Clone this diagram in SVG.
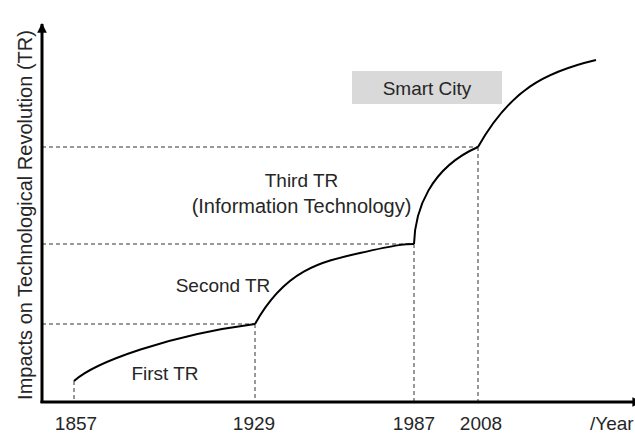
<svg xmlns="http://www.w3.org/2000/svg" width="635" height="433" viewBox="0 0 635 433">
<style>
.t{font-family:"Liberation Sans",Arial,sans-serif;font-size:19px;fill:#262626}
.dash{fill:none;stroke:#333;stroke-width:1;stroke-dasharray:4 3}
.curve{fill:none;stroke:#000;stroke-width:2;stroke-linejoin:round}
.axis{fill:none;stroke:#000;stroke-width:3}
</style>
<defs>
<marker id="ah" viewBox="0 0 10 10" refX="9" refY="5" markerWidth="3.2" markerHeight="3.2" orient="auto" markerUnits="strokeWidth">
<path d="M0,0 L10,5 L0,10 z" fill="#000"/>
</marker>
</defs>
<rect width="635" height="433" fill="#fff"/>
<g id="connectors">
<path class="dash" d="M42,147 H478 M42,244 H414 M42,324 H255"/>
<path class="dash" d="M74,381 V402 M255,324 V402 M414,244 V402 M478,147 V402"/>
<path class="curve" d="M74,381 C95,362 170,335 255,324"/>
<path class="curve" d="M255,324 C285,270 320,262 360,253 S405,244 414,244"/>
<path class="curve" d="M414,244 C415,210 430,168 478,147"/>
<path class="curve" d="M478,147 C510,90 545,72 596,60"/>
<path class="axis" d="M42,403 V24" marker-end="url(#ah)"/>
<path class="axis" d="M40.5,402 H641" marker-end="url(#ah)"/>
</g>
<g id="smart-city">
<rect x="352" y="71" width="150" height="33" fill="#d9d9d9"/>
<text class="t" x="427" y="95" text-anchor="middle">Smart City</text>
</g>
<g id="third-tr">
<text class="t" x="301.5" y="187" text-anchor="middle">Third TR</text>
<text class="t" x="301.5" y="213" text-anchor="middle" style="font-size:20px">(Information Technology)</text>
</g>
<g id="second-tr">
<text class="t" x="223" y="292" text-anchor="middle">Second TR</text>
</g>
<g id="first-tr">
<text class="t" x="165" y="380" text-anchor="middle">First TR</text>
</g>
<g id="x-labels">
<text class="t" x="76" y="430" text-anchor="middle">1857</text>
<text class="t" x="254" y="430" text-anchor="middle">1929</text>
<text class="t" x="414" y="430" text-anchor="middle">1987</text>
<text class="t" x="481" y="430" text-anchor="middle">2008</text>
<text class="t" x="590" y="430">/Year</text>
</g>
<g id="y-label">
<text class="t" style="font-size:20px" transform="translate(32,215) rotate(-90)" text-anchor="middle">Impacts on Technological Revolution (TR)</text>
</g>
</svg>
